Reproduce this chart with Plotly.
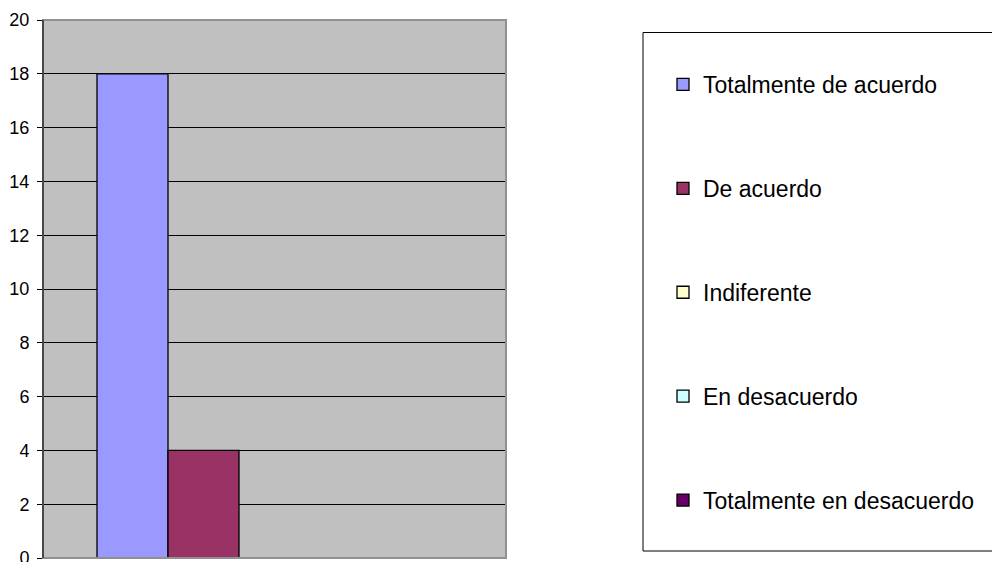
import plotly.graph_objects as go

series_names = ["Totalmente de acuerdo", "De acuerdo", "Indiferente", "En desacuerdo", "Totalmente en desacuerdo"]
series_values = [18, 4, 0, 0, 0]
series_colors = ["#9999FF", "#993366", "#FFFFCC", "#CCFFFF", "#660066"]
category = ["1"]
y_ticks = [0, 2, 4, 6, 8, 10, 12, 14, 16, 18, 20]

W, H = 992, 562
L, R, T, B = 43, 506, 20, 558

def px_x(p):
    return (p - L) / (R - L)

def px_y(p):
    return (B - p) / (B - T)

fig = go.Figure()
for i, (name, val, col) in enumerate(zip(series_names, series_values, series_colors)):
    fig.add_trace(go.Bar(
        x=category, y=[val], name=name,
        marker=dict(color=col, line=dict(color="#000000", width=1.3)),
        legendgroup=f"g{i}",
    ))

fig.update_layout(
    width=W, height=H,
    margin=dict(l=L, r=W - R, t=T, b=H - B, autoexpand=False),
    paper_bgcolor="white",
    plot_bgcolor="#C0C0C0",
    barmode="group",
    bargap=108 / 463,
    bargroupgap=0,
    showlegend=True,
    legend=dict(
        x=px_x(663), y=px_y(63), xanchor="left", yanchor="top",
        font=dict(family="Liberation Sans, Arial", size=23, color="#000000"),
        tracegroupgap=71,
        bgcolor="rgba(0,0,0,0)",
        borderwidth=0,
        traceorder="grouped",
    ),
    xaxis=dict(
        showticklabels=False, showgrid=False, zeroline=False,
        showline=False, ticks="",
    ),
    yaxis=dict(
        range=[0, 20], tickvals=y_ticks,
        showgrid=True, gridcolor="#000000", gridwidth=1,
        zeroline=False,
        showline=True, linecolor="#000000", linewidth=1,
        ticks="outside", ticklen=5, tickcolor="#000000", tickwidth=1,
        tickfont=dict(family="Liberation Sans, Arial", size=18, color="#000000"),
        ticklabelstandoff=4,
        ticklabeloverflow="allow",
    ),
    shapes=[
        dict(type="rect", xref="paper", yref="paper", x0=0, x1=1, y0=0, y1=1,
             line=dict(color="#909090", width=2), fillcolor="rgba(0,0,0,0)", layer="above"),
        dict(type="line", xref="paper", yref="paper", x0=0, x1=0, y0=0, y1=1,
             line=dict(color="#000000", width=1), layer="above"),
        dict(type="rect", xref="paper", yref="paper",
             x0=px_x(643), x1=px_x(1000), y0=px_y(551), y1=px_y(32.5),
             line=dict(color="#000000", width=1), fillcolor="rgba(0,0,0,0)"),
    ],
)

fig.write_html(
    "out.html",
    config={"displayModeBar": False},
    post_script="document.body.style.margin='0px';document.body.style.overflow='hidden';",
)
